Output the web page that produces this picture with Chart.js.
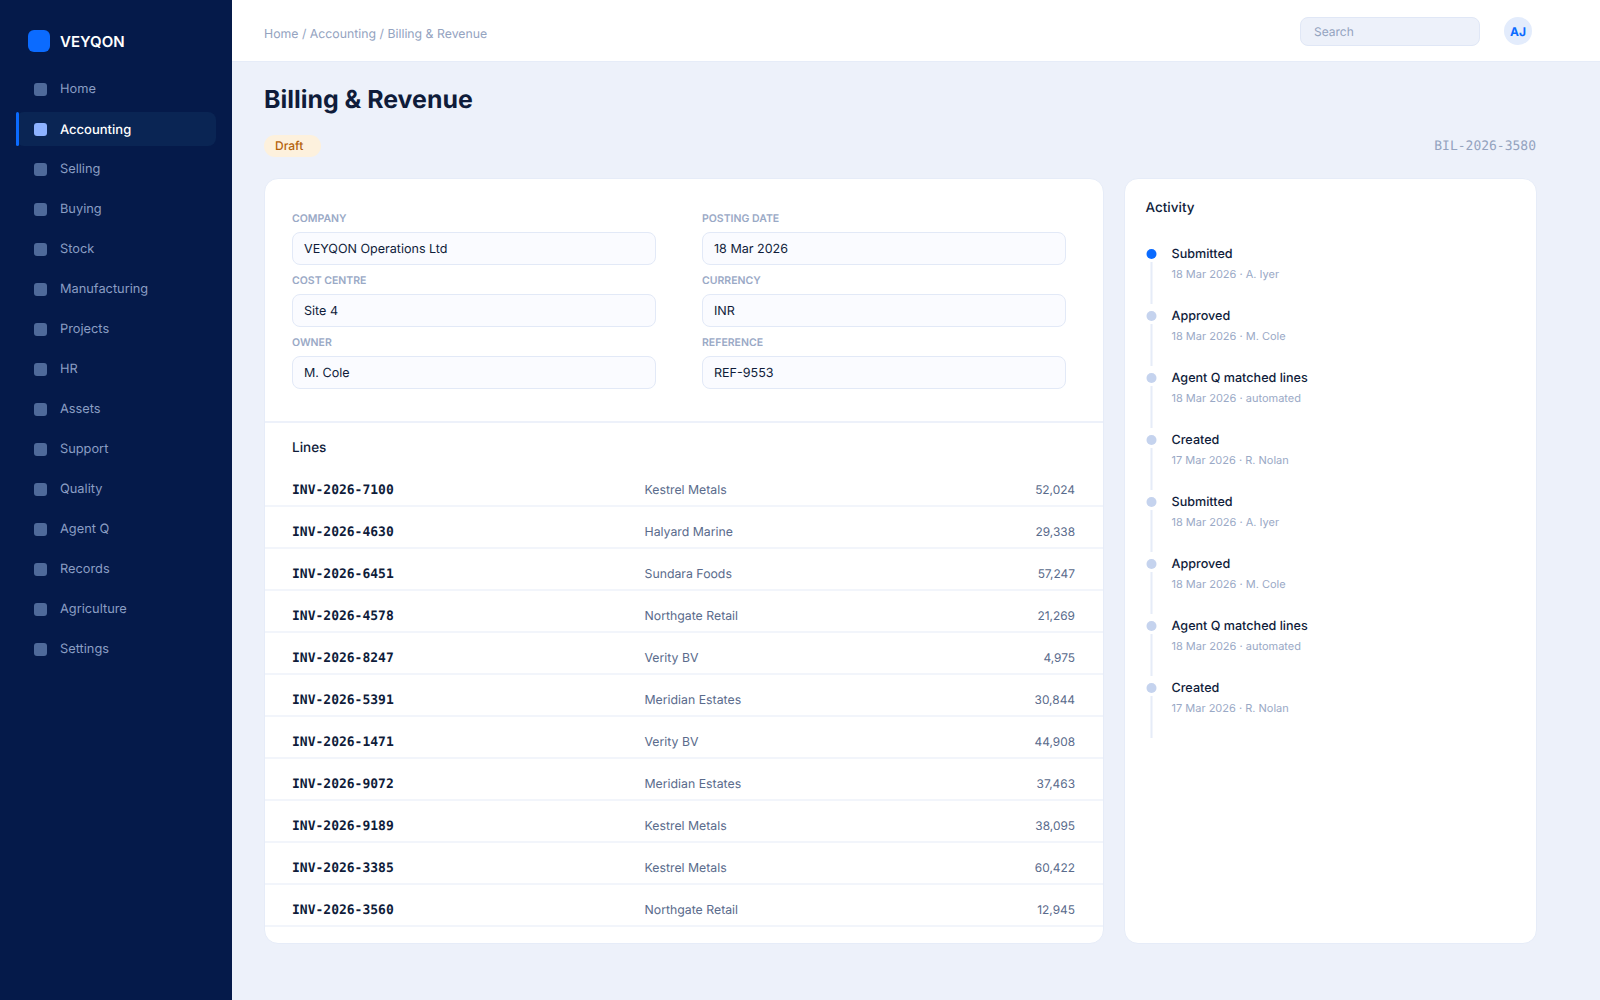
<!DOCTYPE html>
<html>
<head>
<meta charset="utf-8">
<title>Billing &amp; Revenue</title>
<script src="https://cdn.jsdelivr.net/npm/chart.js@4"></script>
<style>
html,body{margin:0;padding:0;width:1600px;height:1000px;overflow:hidden;background:#edf1fa;font-family:Inter,sans-serif;color:#0f1c3a;-webkit-font-smoothing:antialiased;text-rendering:geometricPrecision}
.a{position:absolute;white-space:nowrap;line-height:20px;transform:translateY(-50%)}
.b{position:absolute;box-sizing:border-box}
.mono{font-family:"DejaVu Sans Mono",monospace}
#side{left:0;top:0;width:232px;height:1000px;background:#051a4a}
#top{left:232px;top:0;width:1368px;height:62px;background:#fff;border-bottom:1px solid #e6ecf8}
.card{background:#fff;border:1px solid #e6ecf8;border-radius:14px}
.input{background:#fafbff;border:1px solid #e2e9f7;border-radius:8px}
#timeline{position:absolute;left:1140px;top:223px;width:23px;height:527px}
</style>
</head>
<body>
<div class="b" id="side"></div>
<div class="b" id="top"></div>
<div class="b" style="left:28px;top:30px;width:22px;height:22px;border-radius:6px;background:#0b6bff"></div>
<div class="a" style="left:60px;top:42px;font-size:15px;font-weight:600;color:#fff">VEYQON</div>
<div class="a" style="left:264px;top:34px;font-size:12.3px;color:#94a3bf">Home / Accounting / Billing &amp; Revenue</div>
<div class="b" style="left:1299.5px;top:16.5px;width:180.5px;height:29px;border-radius:8px;background:#edf1fa;border:1px solid #e0e7f6"></div>
<div class="a" style="left:1314px;top:31.5px;font-size:12px;color:#94a3bf">Search</div>
<div class="b" style="left:1504px;top:17px;width:28px;height:28px;border-radius:50%;background:#e3ecfc"></div>
<div class="a" style="left:1504px;top:31.5px;width:28px;text-align:center;font-size:12px;font-weight:700;color:#0b6bff">AJ</div>
<div class="a" style="left:264px;top:100px;font-size:24.9px;font-weight:700;line-height:32px">Billing &amp; Revenue</div>
<div class="b" style="left:264px;top:135px;width:57px;height:22px;border-radius:11px;background:#fdf1dd"></div>
<div class="a" style="left:275px;top:146px;font-size:12px;font-weight:500;color:#b4610a">Draft</div>
<div class="a mono" style="right:64px;top:147px;font-size:13px;color:#94a3bf">BIL-2026-3580</div>
<div class="b card" style="left:264px;top:178px;width:840px;height:766px"></div>
<div class="b card" style="left:1123.5px;top:178px;width:413px;height:766px"></div>
<div class="b" style="left:265px;top:421px;width:838px;height:2px;background:#edf1fa"></div>
<div class="a" style="left:292px;top:448px;font-size:13.5px;font-weight:500">Lines</div>
<div class="a" style="left:1145.5px;top:208px;font-size:13.5px;font-weight:500">Activity</div>
<div id="dyn"></div>
<canvas id="timeline" width="23" height="527"></canvas>
<script>
const navItems = ["Home","Accounting","Selling","Buying","Stock","Manufacturing","Projects","HR","Assets","Support","Quality","Agent Q","Records","Agriculture","Settings"];
const activeNav = "Accounting";
const fieldLabels = ["COMPANY","POSTING DATE","COST CENTRE","CURRENCY","OWNER","REFERENCE"];
const fieldValues = ["VEYQON Operations Ltd","18 Mar 2026","Site 4","INR","M. Cole","REF-9553"];
const invoiceIds = ["INV-2026-7100","INV-2026-4630","INV-2026-6451","INV-2026-4578","INV-2026-8247","INV-2026-5391","INV-2026-1471","INV-2026-9072","INV-2026-9189","INV-2026-3385","INV-2026-3560"];
const customers = ["Kestrel Metals","Halyard Marine","Sundara Foods","Northgate Retail","Verity BV","Meridian Estates","Verity BV","Meridian Estates","Kestrel Metals","Kestrel Metals","Northgate Retail"];
const amounts = [52024,29338,57247,21269,4975,30844,44908,37463,38095,60422,12945];
const activityTitles = ["Submitted","Approved","Agent Q matched lines","Created","Submitted","Approved","Agent Q matched lines","Created"];
const activityMeta = ["18 Mar 2026 · A. Iyer","18 Mar 2026 · M. Cole","18 Mar 2026 · automated","17 Mar 2026 · R. Nolan","18 Mar 2026 · A. Iyer","18 Mar 2026 · M. Cole","18 Mar 2026 · automated","17 Mar 2026 · R. Nolan"];

let h = "";
navItems.forEach((n,i)=>{
  const c = 89 + 40*i, on = n===activeNav;
  if(on){
    h += `<div class="b" style="left:16px;top:${c-17}px;width:200px;height:34px;border-radius:8px;background:#0a2554"></div>`;
    h += `<div class="b" style="left:16px;top:${c-17}px;width:3px;height:34px;border-radius:2px;background:#0b6bff"></div>`;
  }
  h += `<div class="b" style="left:34px;top:${c-6.5}px;width:13px;height:13px;border-radius:3px;background:${on?'#8db2ff':'#4f6a9a'}"></div>`;
  h += `<div class="a" style="left:60px;top:${c+1}px;font-size:${on?13:12.8}px;font-weight:${on?500:400};color:${on?'#fff':'#8b9ec4'}">${n}</div>`;
});
fieldLabels.forEach((l,i)=>{
  const x = i%2 ? 702 : 292, r = Math.floor(i/2);
  h += `<div class="a" style="left:${x}px;top:${219+62*r}px;font-size:10.5px;font-weight:600;color:#9aa9c6">${l}</div>`;
  h += `<div class="b input" style="left:${x-.5}px;top:${231.5+62*r}px;width:364.5px;height:33px"></div>`;
  h += `<div class="a" style="left:${x+12}px;top:${250+62*r}px;font-size:12.55px">${fieldValues[i]}</div>`;
});
invoiceIds.forEach((id,i)=>{
  const c = 490+42*i;
  h += `<div class="a mono" style="left:292px;top:${c+1}px;font-size:13px;font-weight:700">${id}</div>`;
  h += `<div class="a" style="left:644.5px;top:${c}px;font-size:12.3px;color:#5a6b8c">${customers[i]}</div>`;
  h += `<div class="a" style="right:525px;top:${c}px;font-size:11.9px;color:#5a6b8c">${amounts[i].toLocaleString('en-US')}</div>`;
  h += `<div class="b" style="left:265px;top:${505+42*i}px;width:838px;height:2px;background:#f2f5fb"></div>`;
});
activityTitles.forEach((t,i)=>{
  h += `<div class="a" style="left:1171.5px;top:${255+62*i}px;font-size:12.6px;font-weight:500">${t}</div>`;
  h += `<div class="a" style="left:1171.5px;top:${273.5+62*i}px;font-size:11px;color:#9aa9c6">${activityMeta[i]}</div>`;
});
document.getElementById('dyn').innerHTML = h;

// Activity timeline: one step per event, plus a trailing connector below the last one.
const eventPoints = activityTitles.map((_,i)=>({x:0,y:i}));
const connectorPoints = eventPoints.concat([{x:0,y:activityTitles.length}]);
new Chart(document.getElementById('timeline'),{
  type:'scatter',
  data:{datasets:[
    {data:eventPoints,showLine:false,pointRadius:5,pointHoverRadius:5,pointBorderWidth:0,
     pointBackgroundColor:eventPoints.map((_,i)=>i===0?'#0b6bff':'#c5d3ee'),order:0},
    {data:connectorPoints,showLine:true,pointRadius:0,borderColor:'#e6ecf8',borderWidth:2,
     borderDash:[42,20],borderDashOffset:54,order:1}
  ]},
  options:{responsive:false,animation:false,events:[],
    layout:{padding:0,autoPadding:false},
    plugins:{legend:{display:false},tooltip:{enabled:false}},
    scales:{
      x:{display:false,min:-1,max:1},
      y:{display:false,reverse:true,min:-0.5,max:8}
    }}
});
</script>
</body>
</html>
